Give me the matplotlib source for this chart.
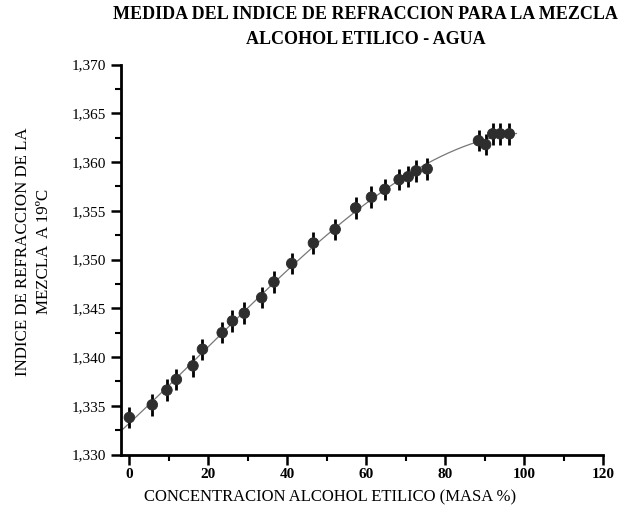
import numpy as np
import matplotlib
matplotlib.use("Agg")
import matplotlib.pyplot as plt
from matplotlib.ticker import MultipleLocator, FuncFormatter

conc = [0.0, 5.8, 9.5, 11.9, 16.1, 18.5, 23.5, 26.1, 29.1, 33.5, 36.6, 41.1,
        46.6, 52.1, 57.3, 61.3, 64.7, 68.3, 70.6, 72.6, 75.4, 88.4, 90.2,
        92.0, 93.9, 96.2]
n_ref = [1.3338, 1.3351, 1.3366, 1.3377, 1.3391, 1.3408, 1.3425, 1.3437,
         1.3445, 1.3461, 1.3477, 1.3496, 1.3517, 1.3531, 1.3553, 1.3564,
         1.3572, 1.3582, 1.3585, 1.3591, 1.3593, 1.3622, 1.3618, 1.3629,
         1.3629, 1.3629]
err = 0.0011

title = "MEDIDA DEL INDICE DE REFRACCION PARA LA MEZCLA\nALCOHOL ETILICO - AGUA"
xlabel = "CONCENTRACION ALCOHOL ETILICO (MASA %)"
ylabel = "INDICE DE REFRACCION DE LA\nMEZCLA  A 19\u00baC"

plt.rcParams['font.family'] = ['Liberation Serif', 'DejaVu Serif']
plt.rcParams['hatch.linewidth'] = 0.6

fig = plt.figure(figsize=(6.27, 5.13), dpi=100)
ax = fig.add_axes([0.1925, 0.114, 0.7697, 0.760])

coef = np.polyfit(conc, n_ref, 3)
xf = np.linspace(-2.2, 98, 300)
ax.plot(xf, np.polyval(coef, xf), color='#777777', lw=0.9, zorder=1)

ax.errorbar(conc, n_ref, yerr=err, fmt='none', ecolor='black', elinewidth=2.0,
            capsize=0, zorder=2)
ax.scatter(conc, n_ref, s=58, facecolor='#2e2e2e', edgecolor='#2e2e2e',
           hatch='xxxxxx', linewidth=0.6, zorder=3)

ax.set_xlim(-2.2, 120)
ax.set_ylim(1.330, 1.370)
ax.spines['top'].set_visible(False)
ax.spines['right'].set_visible(False)
for s in ['left', 'bottom']:
    ax.spines[s].set_linewidth(2.0)

ax.xaxis.set_major_locator(MultipleLocator(20))
ax.xaxis.set_minor_locator(MultipleLocator(10))
ax.yaxis.set_major_locator(MultipleLocator(0.005))
ax.yaxis.set_minor_locator(MultipleLocator(0.0025))
ax.yaxis.set_major_formatter(FuncFormatter(lambda v, p: f"{v:.3f}".replace('.', ',')))
ax.tick_params(which='major', direction='out', length=7, width=1.8, labelsize=11)
ax.tick_params(which='minor', direction='out', length=4, width=1.5)
ax.tick_params(axis='x', pad=3)
for lab in ax.get_xticklabels():
    lab.set_fontweight('bold')

fig.text(0.583, 0.988, title, ha='center', va='top', fontsize=13,
         fontweight='bold', linespacing=1.6)
fig.text(0.527, 0.03, xlabel, ha='center', va='center', fontsize=12)
fig.text(0.053, 0.51, ylabel, ha='center', va='center', rotation=90,
         fontsize=12.2, linespacing=1.45)

fig.savefig("out.png", dpi=100)
